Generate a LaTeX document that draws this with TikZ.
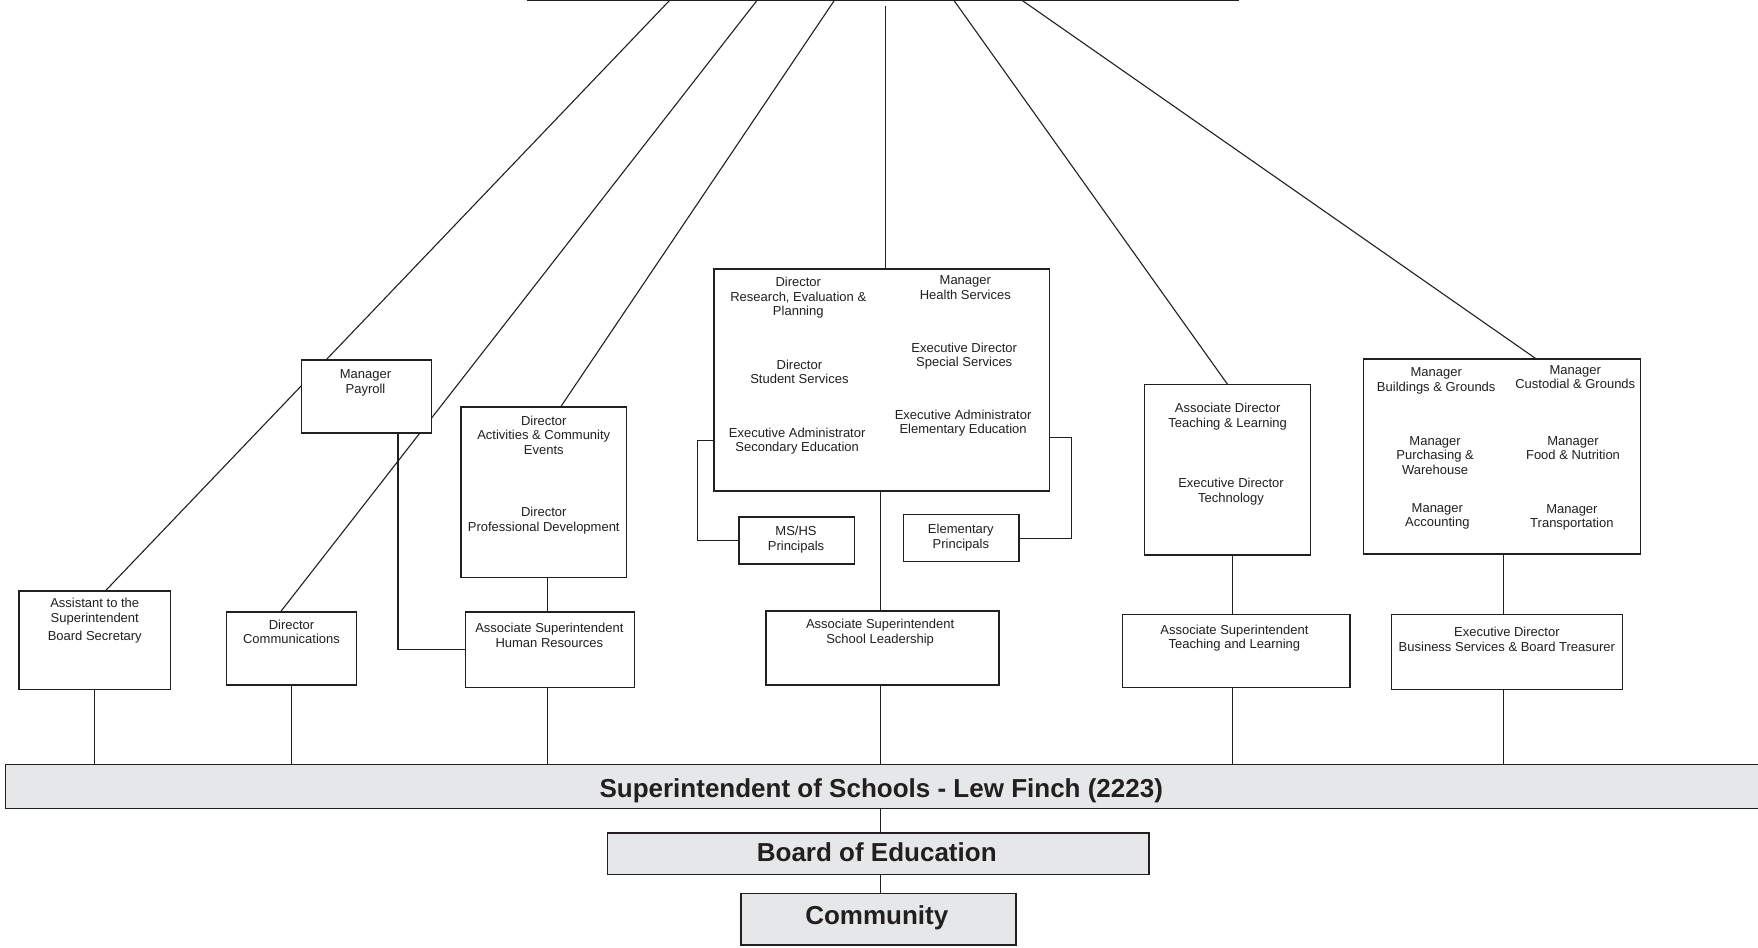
\documentclass[tikz,border=0pt]{standalone}
\usepackage{fontspec}
\setmainfont{Liberation Sans}
\usetikzlibrary{backgrounds}
\definecolor{ink}{HTML}{231F20}
\definecolor{barfill}{HTML}{E6E7E8}
\newcommand\orgsmall{\fontsize{13}{14.6}\selectfont}
\newcommand\orgbig{\fontsize{26}{30}\selectfont\bfseries}
\newcommand\obox[7][]{\node[obx,#1,minimum width={(#5-#3)*1.1212pt},minimum height={(#6-#4)*1.1212pt}] (#2) at ({(#3+#5)/2},{(#4+#6)/2}) {#7};}
\begin{document}
\begin{tikzpicture}[x=1.1212pt,y=-1.1212pt,
  obx/.style={draw=ink,line width=1.5pt,fill=white,inner sep=0pt,outer sep=0pt,text=ink},
  ln/.style={draw=ink,line width=1.1pt},
  txt/.style={align=center,font=\orgsmall,text=ink,inner sep=0pt},
  bigtxt/.style={font=\orgbig,text=ink,inner sep=0pt,anchor=base}]
\useasboundingbox (0,0) rectangle (1568,845);
\clip (0,0) rectangle (1568,845);
% boxes
\obox{asst}{17}{527}{152}{615}{}
\obox{comm}{202}{546}{318}{611}{}
\obox{payroll}{269}{321}{385}{386}{}
\obox{act}{411}{363}{559}{515}{}
\obox{hr}{415}{546}{566}{613}{}
\obox{big}{637}{240}{936}{438}{}
\obox{mshs}{659}{461}{762}{503}{}
\obox{elem}{806}{459}{909}{501}{}
\obox{lead}{683}{545}{891}{611}{}
\obox{adtl}{1021}{343}{1169}{495}{}
\obox{astl}{1001}{548}{1204}{613}{}
\obox{bus}{1216}{320}{1463}{494}{}
\obox{edbus}{1241}{548}{1447}{615}{}
\obox[fill=barfill]{supt}{5}{682}{1570}{721}{}
\obox[fill=barfill]{boe}{542}{743}{1025}{780}{}
\obox[fill=barfill]{cmty}{661}{797}{906}{843}{}
% big labels
\node[bigtxt] (tsupt) at (786,711.5) {Superintendent of Schools - Lew Finch (2223)};
\node[bigtxt] (tboe) at (782,768.5) {Board of Education};
\node[bigtxt] (tcmty) at (782,824.5) {Community};
% texts
\node[txt] (t1) at (84.5,553.5) {Assistant to the\\Superintendent\\[3pt]Board Secretary};
\node[txt] (t2) at (260,563.5) {Director\\Communications};
\node[txt] (t3) at (326,341.5) {Manager\\Payroll};
\node[txt] (t4) at (485,388) {Director\\Activities \& Community\\Events};
\node[txt] (t5) at (485,464.5) {Director\\Professional Development};
\node[txt] (t6) at (490,566.5) {Associate Superintendent\\Human Resources};
\node[txt] (t7) at (712,265.5) {Director\\Research, Evaluation \&\\Planning};
\node[txt] (t8) at (713,331.5) {Director\\Student Services};
\node[txt] (t9) at (711,393.5) {Executive Administrator\\Secondary Education};
\node[txt] (t10) at (861,256.5) {Manager\\Health Services};
\node[txt] (t11) at (860,317.5) {Executive Director\\Special Services};
\node[txt] (t12) at (859,377.5) {Executive Administrator\\Elementary Education};
\node[txt] (t13) at (710,481.5) {MS/HS\\Principals};
\node[txt] (t14) at (857,479.5) {Elementary\\Principals};
\node[txt] (t15) at (785,564.5) {Associate Superintendent\\School Leadership};
\node[txt] (t16) at (1095,371.5) {Associate Director\\Teaching \& Learning};
\node[txt] (t17) at (1098,438.5) {Executive Director\\Technology};
\node[txt] (t18) at (1101,569) {Associate Superintendent\\Teaching and Learning};
\node[txt] (t19) at (1281,339.5) {Manager\\Buildings \& Grounds};
\node[txt] (t20) at (1405,336.5) {Manager\\Custodial \& Grounds};
\node[txt] (t21) at (1280,406) {Manager\\Purchasing \&\\Warehouse};
\node[txt] (t22) at (1403,399.5) {Manager\\Food \& Nutrition};
\node[txt] (t23) at (1282,460.5) {Manager\\Accounting};
\node[txt] (t24) at (1402,461.5) {Manager\\Transportation};
\node[txt] (t25) at (1344,570) {Executive Director\\Business Services \& Board Treasurer};
% helper coordinates
\coordinate (top1) at (470,0.6);
\coordinate (top2) at (1105,0.6);
\coordinate (d1) at (597,0.6);
\coordinate (d2) at (675,0.6);
\coordinate (d3) at (744,0.6);
\coordinate (v0) at (790,5);
\coordinate (d5) at (851,0.6);
\coordinate (d6) at (912,0.6);
\coordinate (e1) at (94,0);
\coordinate (e2) at (250,0);
\coordinate (e3) at (500,0);
\coordinate (e6) at (1370,0);
\coordinate (x355) at (355,0);
\coordinate (x488) at (488,0);
\coordinate (x785) at (785,0);
\coordinate (x1099) at (1099,0);
\coordinate (x1341) at (1341,0);
\coordinate (bl) at (622,393);
\coordinate (br) at (956,390);
\begin{scope}[on background layer]
\draw[ln] (top1) -- (top2);
\draw[ln] (d1) -- (asst.north -| e1);
\draw[ln] (d2) -- (comm.north -| e2);
\draw[ln] (d3) -- (act.north -| e3);
\draw[ln] (v0) -- (big.north -| v0);
\draw[ln] (d5) -- (adtl.north);
\draw[ln] (d6) -- (bus.north -| e6);
\end{scope}
% connectors
\draw[ln] (asst.south) -- (asst.south |- supt.north);
\draw[ln] (comm.south) -- (comm.south |- supt.north);
\draw[ln] (hr.south -| x488) -- (supt.north -| x488);
\draw[ln] (act.south -| x488) -- (hr.north -| x488);
\draw[ln] (payroll.south -| x355) |- (hr.west);
\draw[ln] (big.south -| x785) -- (lead.north -| x785);
\draw[ln] (lead.south -| x785) -- (supt.north -| x785);
\draw[ln] (supt.south -| x785) -- (boe.north -| x785);
\draw[ln] (boe.south -| x785) -- (cmty.north -| x785);
\draw[ln] (big.west |- bl) -- (bl) -- (bl |- mshs.west) -- (mshs.west);
\draw[ln] (big.east |- br) -- (br) -- (br |- elem.east) -- (elem.east);
\draw[ln] (adtl.south -| x1099) -- (astl.north -| x1099);
\draw[ln] (astl.south -| x1099) -- (supt.north -| x1099);
\draw[ln] (bus.south -| x1341) -- (edbus.north -| x1341);
\draw[ln] (edbus.south -| x1341) -- (supt.north -| x1341);
\end{tikzpicture}
\end{document}
